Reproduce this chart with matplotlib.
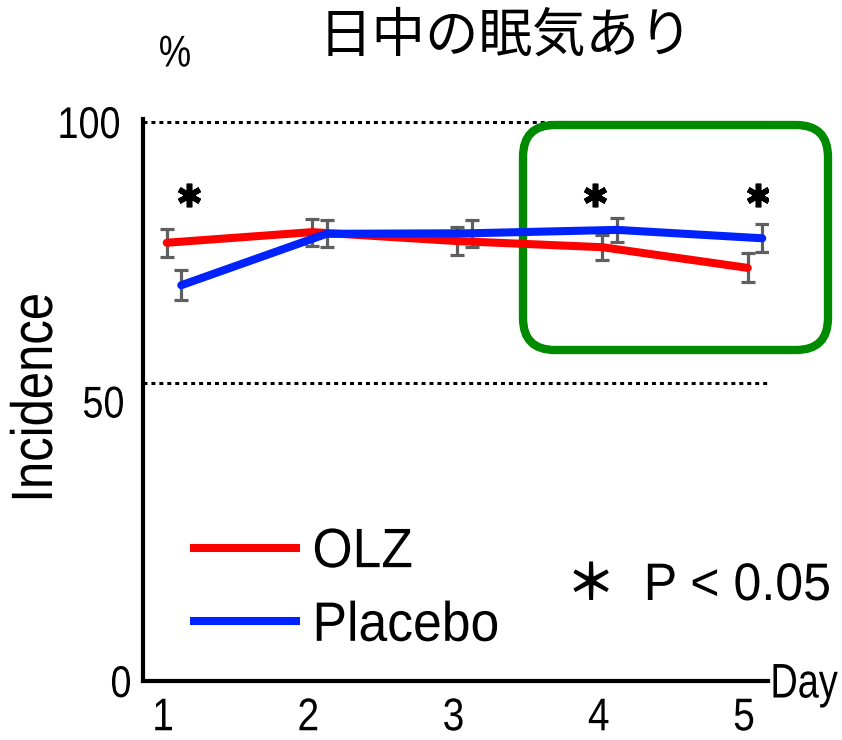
import matplotlib
matplotlib.use("Agg")
import matplotlib.pyplot as plt
import numpy as np
from matplotlib.patches import FancyBboxPatch
from matplotlib.patheffects import AbstractPathEffect
from matplotlib.transforms import Affine2D
import matplotlib.transforms as mtransforms

# ---- data ----
days = [1, 2, 3, 4, 5]
day_labels = ["1", "2", "3", "4", "5"]
olz = [78.4, 80.3, 78.7, 77.6, 73.9]
olz_err = [2.5, 2.4, 2.5, 2.2, 2.6]
placebo = [70.8, 80.0, 80.1, 80.7, 79.2]
placebo_err = [2.7, 2.4, 2.4, 2.1, 2.5]
sig_x = [1.1, 3.9, 5.02]
sig_y = [87, 87, 87]
yticks = [0, 50, 100]
ytick_labels = ["0", "50", "100"]

plt.rcParams['font.family'] = ["Liberation Sans", "Noto Sans CJK JP"]


class Condense(AbstractPathEffect):
    """Horizontally narrow the glyphs (Arial Narrow look) keeping alignment."""
    def __init__(self, factor=0.82, align="center", vertical=False):
        super().__init__()
        self.f = factor
        self.align = align
        self.vertical = vertical

    def draw_path(self, renderer, gc, tpath, affine, rgbFace=None):
        verts = tpath.vertices
        if tpath.codes is not None:
            verts = verts[tpath.codes != 79]
        if len(verts) == 0:
            return
        v = affine.transform(verts)
        i = 1 if self.vertical else 0
        lo, hi = v[:, i].min(), v[:, i].max()
        a = {"left": lo, "center": (lo + hi) / 2, "right": hi}[self.align]
        t = Affine2D()
        if self.vertical:
            t.translate(0, -a).scale(1, self.f).translate(0, a)
        else:
            t.translate(-a, 0).scale(self.f, 1).translate(a, 0)
        renderer.draw_path(gc, tpath, affine + t, rgbFace)


W, H = 842, 740
fig = plt.figure(figsize=(W / 100, H / 100), dpi=100)
ax_l, ax_r, ax_t, ax_b = 143, 768, 122, 681
ax = fig.add_axes([ax_l / W, 1 - ax_b / H, (ax_r - ax_l) / W, (ax_b - ax_t) / H])

x_left = 1 + (ax_l - 174) / 145.25
x_right = 1 + (ax_r - 174) / 145.25
ax.set_xlim(x_left, x_right)
ax.set_ylim(0, 100)

off = 0.05
xr = np.array(days) - off
xb = np.array(days) + off

# reference dotted lines
ax.axhline(100, color="black", ls=(0, (1.3, 1.3)), lw=2.2, zorder=1, clip_on=False)
ax.axhline(53.3, color="black", ls=(0, (1.3, 1.3)), lw=2.2, zorder=1, clip_on=False)

# green rounded box
bx0, bx1, by0, by1 = 523, 828, 125, 350
box = FancyBboxPatch((bx0 / W, 1 - by1 / H), (bx1 - bx0) / W, (by1 - by0) / H,
                     boxstyle="round,pad=0,rounding_size=%f" % (32 / W),
                     mutation_aspect=W / H,
                     transform=fig.transFigure, facecolor="white",
                     edgecolor="#008a00", lw=6, zorder=2, clip_on=False)
ax.add_artist(box)

err_kw = dict(fmt="none", ecolor="#5f5f5f", elinewidth=2.3, capsize=4.8,
              capthick=2.3, zorder=5)
ax.errorbar(xr, olz, yerr=olz_err, **err_kw)
ax.errorbar(xb, placebo, yerr=placebo_err, **err_kw)

l1, = ax.plot(xr, olz, color="#ff0000", lw=5.8, solid_capstyle="round",
              label="OLZ", zorder=6, clip_on=False)
l2, = ax.plot(xb, placebo, color="#0022ff", lw=5.8, solid_capstyle="round",
              label="Placebo", zorder=7, clip_on=False)

ax.plot(sig_x, sig_y, ls="none", marker=(6, 2, 0), ms=17, mew=4.0,
        color="black", zorder=8)

for sp in ["top", "right"]:
    ax.spines[sp].set_visible(False)
for sp in ["left", "bottom"]:
    ax.spines[sp].set_linewidth(3)
    ax.spines[sp].set_zorder(10)
ax.spines["left"].set_bounds(0, 100.5)

ax.set_xticks(days)
ax.set_xticklabels(day_labels, fontsize=33)
ax.set_yticks(yticks)
ax.set_yticklabels(ytick_labels, fontsize=32)
ax.tick_params(axis="both", length=0)
ax.tick_params(axis="x", pad=11)
ax.tick_params(axis="y", pad=16)
shift = mtransforms.ScaledTranslation(-11 / 100, 0, fig.dpi_scale_trans)
for lab in ax.get_xticklabels():
    lab.set_transform(lab.get_transform() + shift)
    lab.set_path_effects([Condense(0.85, "center")])
ylab_shift = [11, 4, 0]
for lab, s in zip(ax.get_yticklabels(), ylab_shift):
    lab.set_transform(lab.get_transform() +
                      mtransforms.ScaledTranslation(s / 100, 0, fig.dpi_scale_trans))
    lab.set_path_effects([Condense(0.85, "right")])

leg = ax.legend(handles=[l1, l2], loc="center left",
                bbox_to_anchor=(190 / W, 1 - 590 / H), bbox_transform=fig.transFigure,
                frameon=False, fontsize=40, handlelength=1.98, handletextpad=0.22,
                labelspacing=0.39, borderpad=0, borderaxespad=0)
for h in leg.get_lines():
    h.set_solid_capstyle("butt")
for t in leg.get_texts():
    t.set_path_effects([Condense(0.93, "left")])

fig.text(37 / W, 1 - 398 / H, "Incidence", rotation=90, fontsize=42,
         ha="center", va="center", path_effects=[Condense(0.84, "center", True)])
fig.text(175 / W, 1 - 55 / H, "%", fontsize=32, ha="center", va="center",
         path_effects=[Condense(0.82, "center")])
fig.text(506 / W, 1 - 36 / H, "日中の眠気あり", fontsize=38.5, ha="center", va="center",
         family=["Noto Sans CJK JP", "DejaVu Sans"])
fig.text(838 / W, 1 - 685 / H, "Day", fontsize=35, ha="right", va="center",
         path_effects=[Condense(0.78, "right")])
fig.text(591 / W, 1 - 586 / H, "＊", fontsize=36, ha="center", va="center",
         family=["Noto Sans CJK JP", "DejaVu Sans"], fontweight="bold")
fig.text(831 / W, 1 - 586 / H, "P < 0.05", fontsize=38, ha="right", va="center",
         path_effects=[Condense(0.95, "right")])

fig.savefig("out.png", dpi=100)
